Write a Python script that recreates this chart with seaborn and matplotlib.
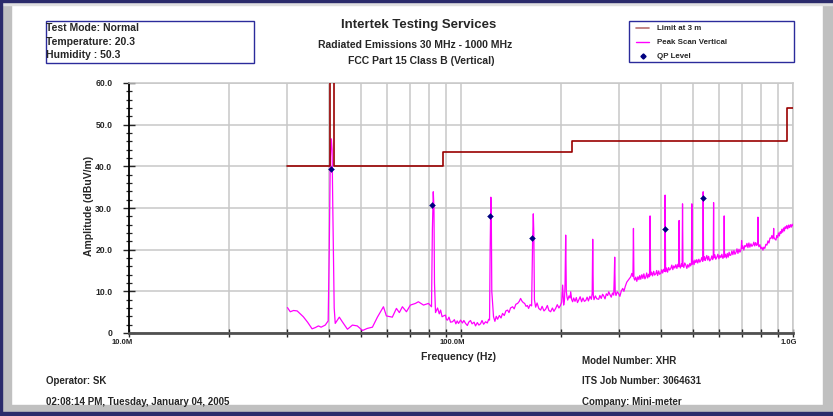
import matplotlib
matplotlib.use("Agg")
import matplotlib.pyplot as plt
import matplotlib.ticker as mticker
from matplotlib.lines import Line2D
from matplotlib.patches import Rectangle
from matplotlib.transforms import ScaledTranslation
import pandas as pd
import seaborn as sns

# FCC limit at 3 m (MHz, dBuV/m)
limit_mhz = [30, 40.4, 40.4, 41.5, 41.5, 88, 88, 216, 216, 960, 960, 1000]
limit_db = [40, 40, 100, 100, 40, 40, 43.5, 43.5, 46, 46, 54, 54]

# peak scan, vertical polarisation
peak_mhz = [
    30.0, 30.6, 31.3, 32.1, 33.5, 34.5, 35.6, 36.4, 37.2, 37.9, 39.0, 39.8,
    40.1, 40.4, 40.7, 40.9, 41.1, 41.5, 41.8, 43.0, 43.9, 45.5, 47.1, 48.7,
    50.5, 52.2, 54.1, 56.0, 58.4, 59.6, 62.1, 63.9, 65.2, 66.6, 68.5, 70.4,
    72.9, 74.4, 77.1, 79.8, 81.5, 82.0, 82.5, 82.9, 83.2, 83.8, 85.0, 86.0,
    86.8, 87.7, 88.6, 89.8, 90.4, 91.1, 92.0, 93.0, 94.3, 95.5, 96.5, 97.4,
    98.3, 99.7, 101, 102, 103.2, 104.5, 105.5, 106.8, 108, 109.5, 110.6, 112,
    113.2, 114.5, 115.7, 117, 118.6, 120, 121.2, 121.9, 122.4, 123.0, 123.4, 123.8,
    125.3, 126.5, 127.7, 128.9, 130.5, 132, 133.4, 135, 136.5, 138.1, 139.5, 141,
    143.0, 144.6, 146.3, 148.1, 149.8, 151.2, 152.5, 154, 155.5, 157, 158.5, 159.8,
    161.5, 163.2, 164.3, 165.1, 165.7, 166.4, 167.8, 169.5, 171.5, 173.7, 175.5, 177.8,
    179.8, 182, 184, 186.2, 188.5, 190.5, 192.8, 195, 197.2, 199.6, 201, 202.4,
    203.8, 205.0, 205.8, 206.7, 207.6, 208.6, 209.6, 211.5, 213, 214.0, 215.5, 216.9,
    218.5, 220.5, 222.5, 224.3, 226.2, 228.5, 230.8, 233, 235.3, 237.5, 239.8, 242,
    244.5, 247, 248.4, 249.3, 250.3, 251.5, 254, 256.5, 259.9, 262, 264.5, 267,
    269.1, 271.5, 274, 276.5, 278.6, 281, 283.5, 286, 288.4, 289.4, 290.4, 291.4,
    293, 295.5, 298.6, 301, 304, 307.0, 309.5, 312.5, 315.7, 318.5, 321.5, 324.6,
    327, 329.5, 330.7, 331.8, 333.7, 336, 338.5, 341, 343.5, 345.5, 347.9, 350.5,
    353, 355.5, 358, 360.2, 362.5, 365, 367.5, 369.7, 371.1, 372.5, 375, 377.5,
    380.5, 383, 386.1, 388.5, 391, 394, 396.5, 399.7, 402.5, 405, 408, 410.5,
    411.9, 413.3, 416, 419, 422, 425, 428.5, 431.5, 434.5, 437.5, 440.5, 443.7,
    447, 450, 452.5, 453.9, 455.3, 458, 461, 463.5, 464.8, 466.2, 469, 472,
    475.5, 479, 482, 485.6, 489, 492, 494.5, 495.8, 497.2, 500.5, 503.5, 506.5,
    509.8, 513, 516.5, 520.5, 524, 527.8, 531, 534.8, 536.3, 537.8, 541, 543.5,
    546.5, 550, 553.5, 557, 561, 565.8, 569.5, 573, 575.2, 576.5, 577.9, 581.5,
    585.5, 589.8, 594, 598, 602, 606.5, 610.5, 615, 619.2, 620.5, 621.9, 626,
    630, 634, 638, 642, 646, 650.1, 654.5, 659, 664, 668.5, 673.1, 678,
    682.5, 687.5, 692, 696.8, 698.7, 700.2, 701.8, 706, 711, 716, 721.3, 726.5,
    731.5, 736.5, 741.5, 747, 752, 757.2, 762, 767, 772, 777.5, 782.5, 784.1,
    785.8, 789.5, 795, 800.5, 806, 811.8, 817, 822.5, 828.5, 834.7, 840.5, 846.5,
    852.5, 858.2, 864, 870, 873.2, 874.5, 875.8, 881, 888.6, 893.5, 899, 904.5,
    910, 915, 920.0, 925.5, 931, 936.5, 942, 947, 952.6, 958, 964, 970,
    976, 982, 988, 994, 1000,
]
peak_db = [
    6.1, 5.1, 5.4, 5.3, 3.9, 2.6, 1.0, 1.3, 1.7, 1.4, 1.9, 2.9,
    20, 42, 46.6, 44, 30, 6, 2.3, 3.8, 2.7, 0.9, 1.9, 1.7,
    0.6, 1.1, 1.4, 3.8, 6.3, 4.1, 3.8, 5.9, 4.9, 6.3, 5.1, 6.7,
    7.1, 7.5, 6.7, 7.1, 6.3, 25, 33.9, 30, 12, 4.9, 6.0, 4.6,
    5.5, 3.9, 4.1, 4.3, 3.2, 3.1, 3.8, 2.6, 2.7, 3.2, 2.2, 2.9,
    2.3, 3.1, 2.4, 3.0, 2.3, 1.8, 2.6, 3.0, 2.2, 2.6, 1.7, 2.5,
    1.9, 2.2, 3.0, 2.1, 2.7, 2.4, 3.3, 3.1, 20, 32.6, 28, 10,
    3.9, 2.8, 4.0, 3.3, 4.2, 3.6, 4.7, 4.2, 5.3, 5.5, 4.9, 6.0,
    6.3, 5.8, 6.9, 7.1, 7.6, 8.3, 7.7, 7.3, 7.1, 6.4, 6.6, 5.9,
    6.8, 6.5, 22, 28.6, 24, 8, 6.2, 7.2, 5.9, 5.5, 6.4, 5.3,
    5.7, 6.6, 5.4, 5.1, 6.0, 5.2, 5.9, 6.8, 6.0, 6.7, 7.4, 11.5,
    6.7, 8.0, 12, 23.5, 10, 8.6, 7.9, 8.9, 8.4, 9.9, 8.0, 7.5,
    8.4, 7.6, 8.5, 7.3, 7.9, 8.7, 7.5, 8.4, 7.6, 7.8, 8.6, 7.7,
    8.8, 8.1, 9.5, 22.5, 9.2, 8.0, 8.9, 8.2, 8.1, 9.0, 8.3, 9.3,
    8.9, 8.2, 9.4, 9.0, 9.9, 9.2, 8.6, 9.6, 9.1, 13.0, 18.2, 9.8,
    9.0, 9.9, 9.4, 8.8, 10.1, 10.7, 10.0, 11.2, 12.2, 12.6, 13.0, 13.5,
    14.3, 13.6, 25.1, 13.2, 12.7, 13.4, 12.4, 13.5, 12.8, 13.8, 12.9, 14.0,
    13.1, 14.2, 13.0, 13.4, 14.4, 13.2, 14.1, 13.5, 28.1, 13.9, 14.6, 13.7,
    14.8, 13.9, 14.2, 15.0, 13.8, 14.9, 14.1, 14.3, 15.2, 14.4, 15.3, 14.8,
    33.1, 14.7, 15.6, 14.6, 15.7, 15.1, 15.5, 16.3, 15.2, 16.1, 15.6, 16.4,
    15.5, 16.5, 15.9, 27.0, 16.3, 15.6, 16.6, 16.0, 31.0, 16.4, 15.7, 16.8,
    16.3, 15.5, 16.4, 15.8, 16.7, 16.1, 16.9, 31.0, 16.5, 17.3, 16.4, 17.5,
    16.9, 17.6, 16.8, 17.7, 17.0, 17.4, 18.1, 17.2, 33.9, 17.6, 18.3, 17.4,
    17.9, 18.6, 17.5, 18.4, 17.3, 17.7, 18.5, 17.6, 18.4, 31.3, 18.0, 18.8,
    17.7, 18.2, 18.9, 17.8, 18.6, 18.1, 18.9, 17.9, 18.6, 28.1, 18.2, 18.9,
    18.0, 19.1, 18.2, 19.4, 18.6, 18.7, 19.7, 18.8, 19.8, 18.9, 19.3, 20.2,
    19.1, 20.1, 19.4, 19.9, 20.6, 22.2, 20.3, 20.9, 19.9, 21.0, 20.7, 21.5,
    20.5, 21.6, 20.6, 21.4, 20.8, 21.1, 21.8, 20.9, 21.7, 21.0, 21.6, 27.8,
    21.3, 20.7, 21.2, 20.2, 20.6, 19.9, 20.6, 20.3, 21.3, 21.1, 22.1, 21.6,
    22.8, 22.7, 23.4, 22.6, 23.5, 25.1, 23.0, 22.6, 22.3, 23.4, 22.9, 24.0,
    23.3, 24.3, 23.9, 24.9, 24.2, 25.2, 24.5, 25.5, 25.1, 25.8, 25.0, 25.9,
    25.3, 26.0, 25.4, 26.1, 25.7,
]

# quasi-peak readings
qp_mhz = [40.7, 81.8, 122.7, 164.0, 412.0, 536.0]
qp_db = [39.4, 30.7, 28.2, 22.9, 24.9, 32.5]

legend_labels = ["Limit at 3 m", "Peak Scan Vertical", "QP Level"]
info_left = ["Test Mode: Normal", "Temperature: 20.3", "Humidity : 50.3"]
title_lines = ["Intertek Testing Services",
               "Radiated Emissions 30 MHz - 1000 MHz",
               "FCC Part 15 Class B (Vertical)"]

limit_color = "#990000"
peak_color = "#ff00ff"
qp_color = "#000080"

sns.set_style("white")
plt.rcParams['font.family'] = ['Liberation Sans', 'DejaVu Sans']
plt.rcParams['font.weight'] = 'bold'

W, H = 833, 416
fig = plt.figure(figsize=(W / 100, H / 100), dpi=100)
fig.patch.set_facecolor("white")


def fx(px):
    return px / W


def fy(py):
    return 1 - py / H


# outer window frame
frame = [
    (0, 0, 11, H, "#c0c0c0"),
    (823, 0, 10, H, "#c0c0c0"),
    (0, 405, W, 8, "#c0c0c0"),
    (0, 2, W, 3, "#e0e0e0"),
    (0, 0, W, 2, "#2b2b6b"),
    (0, 0, 1.5, H, "#2b2b6b"),
    (0, 412, W, 4, "#2b2b6b"),
]
for x0, y0, w, h, c in frame:
    fig.patches.append(Rectangle((fx(x0), fy(y0 + h)), w / W, h / H,
                                 transform=fig.transFigure, color=c, zorder=0))

ax = fig.add_axes([fx(129), fy(333), (793 - 129) / W, (333 - 83) / H])
ax.set_xscale("log")

lim_df = pd.DataFrame({"f": [m * 1e6 for m in limit_mhz], "a": limit_db})
pk_df = pd.DataFrame({"f": [m * 1e6 for m in peak_mhz], "a": peak_db})
qp_df = pd.DataFrame({"f": [m * 1e6 for m in qp_mhz], "a": qp_db})

sns.lineplot(data=pk_df, x="f", y="a", ax=ax, sort=False, estimator=None,
             color=peak_color, lw=0.9, zorder=3)
sns.lineplot(data=lim_df, x="f", y="a", ax=ax, sort=False, estimator=None,
             color=limit_color, lw=1.2, zorder=4)
sns.scatterplot(data=qp_df, x="f", y="a", ax=ax, marker="D", s=9,
                color=qp_color, edgecolor=qp_color, linewidth=0.3, zorder=5)

ax.set_xlim(1e7, 1e9)
ax.set_ylim(0, 60)
ax.set_xlabel("")
ax.set_ylabel("")

ax.xaxis.set_major_locator(mticker.FixedLocator([1e7, 1e8, 1e9]))
ax.xaxis.set_major_formatter(mticker.FixedFormatter(["10.0M", "100.0M", "1.0G"]))
ax.xaxis.set_minor_locator(mticker.LogLocator(base=10, subs=range(2, 10)))
ax.xaxis.set_minor_formatter(mticker.NullFormatter())
ax.yaxis.set_major_locator(mticker.MultipleLocator(10))
ax.yaxis.set_major_formatter(mticker.FuncFormatter(
    lambda v, p: "0" if v == 0 else f"{v:.1f}"))
ax.yaxis.set_minor_locator(mticker.MultipleLocator(2))

ax.grid(True, which="both", axis="x", color="#c8c8c8", lw=1.1)
ax.grid(True, which="major", axis="y", color="#c8c8c8", lw=1.1)
ax.set_axisbelow(True)

for side in ["top", "right"]:
    ax.spines[side].set_color("#c8c8c8")
    ax.spines[side].set_linewidth(1.1)
ax.spines["left"].set_color("black")
ax.spines["left"].set_linewidth(1.3)
ax.spines["bottom"].set_color("#505050")
ax.spines["bottom"].set_linewidth(2)

ax.tick_params(axis="y", which="major", direction="inout", length=8, width=1,
               labelsize=6.2, pad=8, left=True)
ax.tick_params(axis="y", which="minor", direction="inout", length=5, width=0.9,
               left=True)
ax.tick_params(axis="x", which="both", direction="inout", length=6, width=1,
               labelsize=5.5, pad=1.5, bottom=True)

shift = ScaledTranslation(4 / 100, 0, fig.dpi_scale_trans)
for lab in ax.get_xticklabels():
    lab.set_horizontalalignment("right")
    lab.set_transform(lab.get_transform() + shift)

# axis titles
fig.text(fx(459), fy(357), "Frequency (Hz)", ha="center", va="center",
         fontsize=7.5)
fig.text(fx(89), fy(206), "Amplitude (dBuV/m)", ha="center", va="center",
         rotation=90, fontsize=7.5)

# titles
fig.text(fx(419), fy(25), title_lines[0], ha="center", va="center", fontsize=9.5)
fig.text(fx(415), fy(44.5), title_lines[1], ha="center", va="center", fontsize=7.5)
fig.text(fx(421), fy(61.5), title_lines[2], ha="center", va="center", fontsize=7.5)

# info box top left
fig.patches.append(Rectangle((fx(45.5), fy(62.5)), (254 - 45.5) / W, (62.5 - 20.5) / H,
                             transform=fig.transFigure, fill=False,
                             edgecolor="#2b2b9b", lw=1.0, zorder=2))
for txt, yy in zip(info_left, [28.3, 41.7, 54.5]):
    fig.text(fx(46.5), fy(yy), txt, ha="left", va="center", fontsize=7.5)

# legend box
fig.patches.append(Rectangle((fx(628.5), fy(62.3)), (794.3 - 628.5) / W, (62.3 - 20.7) / H,
                             transform=fig.transFigure, fill=False,
                             edgecolor="#2b2b9b", lw=1.0, zorder=2))
leg_y = [28.3, 42.3, 56]
fig.lines.append(Line2D([fx(636), fx(649)], [fy(leg_y[0])] * 2,
                        transform=fig.transFigure, color="#b87070", lw=1.2))
fig.lines.append(Line2D([fx(636), fx(649)], [fy(leg_y[1])] * 2,
                        transform=fig.transFigure, color=peak_color, lw=1.0))
fig.lines.append(Line2D([fx(642.5)], [fy(leg_y[2])], transform=fig.transFigure,
                        marker="D", ms=2.6, color=qp_color, lw=0))
for txt, yy in zip(legend_labels, leg_y):
    fig.text(fx(657), fy(yy), txt, ha="left", va="center", fontsize=5.7)

# footer
fig.text(fx(582), fy(360.5), "Model Number: XHR", ha="left", va="center", fontsize=7)
fig.text(fx(582), fy(381), "ITS Job Number: 3064631", ha="left", va="center", fontsize=7)
fig.text(fx(582), fy(401.7), "Company: Mini-meter", ha="left", va="center", fontsize=7)
fig.text(fx(46), fy(381), "Operator: SK", ha="left", va="center", fontsize=7)
fig.text(fx(46), fy(401.7), "02:08:14 PM, Tuesday, January 04, 2005", ha="left",
         va="center", fontsize=7)

fig.savefig("out.png", dpi=100)
